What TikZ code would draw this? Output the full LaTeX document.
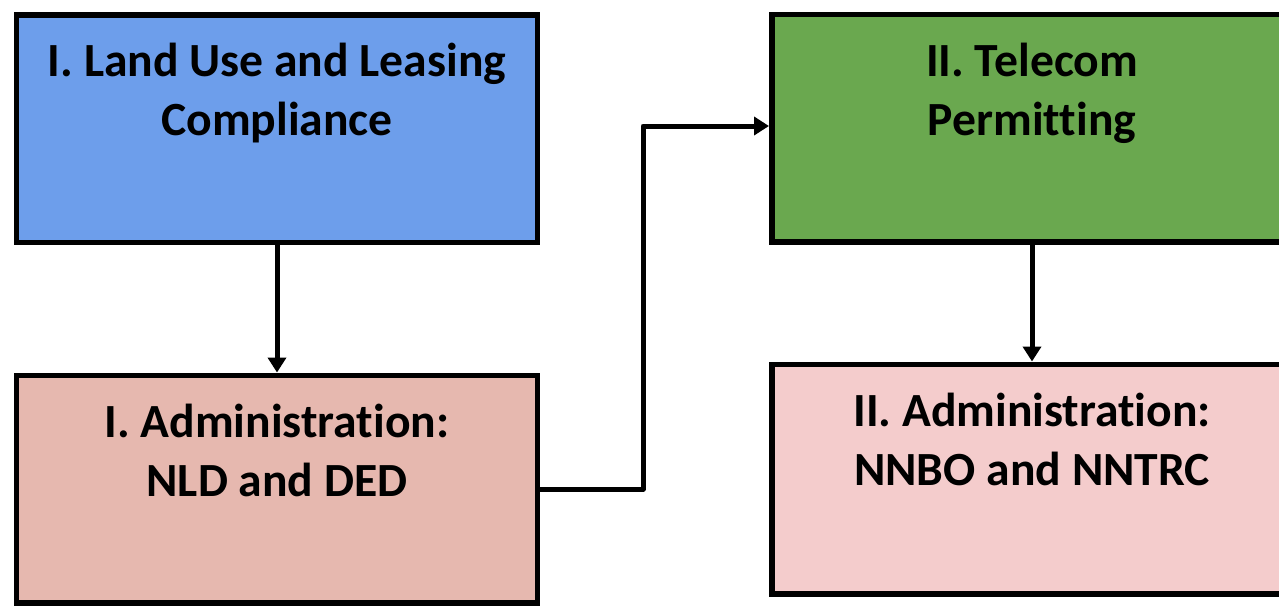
\documentclass[tikz,border=0pt]{standalone}
\usepackage{fontspec}
\setmainfont[Ligatures=NoCommon]{Carlito}
\usetikzlibrary{calc,arrows.meta,shadows}
\definecolor{boxblue}{HTML}{6D9EEB}
\definecolor{boxgreen}{HTML}{6AA84F}
\definecolor{boxsalmon}{HTML}{E6B8AF}
\definecolor{boxpink}{HTML}{F4CCCC}
\tikzset{
  box/.style={
    rectangle,
    draw=black,
    line width=0.11cm,
    minimum width=10.41cm,
    minimum height=4.55cm,
    inner sep=0pt,
    drop shadow={opacity=0.18, shadow xshift=0.05cm, shadow yshift=-0.05cm}
  },
  box-text/.style={
    anchor=north,
    inner sep=0pt,
    align=center,
    font=\fontsize{27.1}{33.5}\selectfont\bfseries
  },
  flow/.style={
    line width=0.1cm,
    line join=round,
    -{Triangle[width=0.36cm,length=0.3cm]}
  }
}

\begin{document}
\begin{tikzpicture}
  \useasboundingbox (0,0) rectangle (25.58,-12.12);
  % Boxes
  \node[box, fill=boxblue] (landuse) at (5.54,-2.57) {};
  \node[box, fill=boxsalmon] (admin1) at (5.54,-9.78) {};
  \node[box, fill=boxgreen] (telecom) at (20.64,-2.56) {};
  \node[box, fill=boxpink, minimum height=4.59cm] (admin2) at (20.64,-9.58) {};
  % Labels
  \node[box-text] (landuse-text) at ($(landuse.north)+(0,-0.62)$) {I. Land Use and Leasing\\Compliance};
  \node[box-text] (admin1-text) at ($(admin1.north)+(0,-0.62)$) {I. Administration:\\NLD and DED};
  \node[box-text] (telecom-text) at ($(telecom.north)+(0,-0.62)$) {II. Telecom\\Permitting};
  \node[box-text] (admin2-text) at ($(admin2.north)+(0,-0.62)$) {II. Administration:\\NNBO and NNTRC};
  % Arrows
  \draw[flow] (landuse) -- (admin1);
  \draw[flow] (admin1.east) -- ++(2.06,0) |- ($(telecom.west)+(0,0.04)$);
  \draw[flow] (telecom) -- (admin2);
\end{tikzpicture}
\end{document}
